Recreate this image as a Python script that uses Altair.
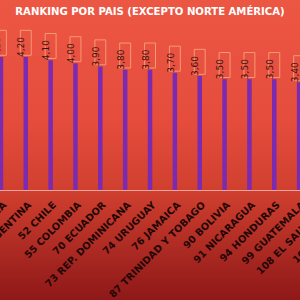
import altair as alt
import pandas as pd

TITLE = "RANKING POR PAIS (EXCEPTO NORTE AMÉRICA)"

# Category labels (rank + country); first and last two lie partly outside the crop
countries = [
    "45 PANAMÁ",
    "51 ARGENTINA",
    "52 CHILE",
    "55 COLOMBIA",
    "70 ECUADOR",
    "73 REP. DOMINICANA",
    "74 URUGUAY",
    "76 JAMAICA",
    "87 TRINIDAD Y TOBAGO",
    "90 BOLIVIA",
    "91 NICARAGUA",
    "94 HONDURAS",
    "99 GUATEMALA",
    "108 EL SALVADOR",
    "109 PARAGUAY",
]
scores = [4.20, 4.20, 4.10, 4.00, 3.90, 3.80, 3.80, 3.70, 3.60, 3.50, 3.50, 3.50, 3.40, 3.40, 3.40]

df = pd.DataFrame({
    "pais": countries,
    "valor": scores,
    "etiqueta": [f"{v:.2f}".replace(".", ",") for v in scores],
})

x_enc = alt.X(
    "pais:N",
    sort=countries,
    scale=alt.Scale(range=[-11.5, 361.25], paddingInner=0, paddingOuter=0),
    axis=alt.Axis(
        title=None,
        zindex=1,
        labelAngle=315,
        labelAlign="right",
        labelBaseline="middle",
        labelOffset=4,
        labelPadding=13,
        ticks=False,
        tickSize=0,
        domain=True,
        domainColor="#F4A49A",
        domainWidth=1.2,
        labelFont="DejaVu Sans",
        labelFontWeight="bold",
        labelFontSize=9.8,
        labelColor="#220606",
        labelOverlap=False,
        labelBound=False,
        labelFlush=False,
        labelLimit=300,
    ),
)
y_enc = alt.Y("valor:Q", scale=alt.Scale(domain=[0, 5.74]), axis=None)

gradient = alt.LinearGradient(
    gradient="linear",
    stops=[
        alt.GradientStop(color="#EC5743", offset=0),
        alt.GradientStop(color="#E54C3C", offset=0.4),
        alt.GradientStop(color="#D1402F", offset=0.63),
        alt.GradientStop(color="#8E1818", offset=1),
    ],
    x1=0, x2=0, y1=0, y2=1,
)

bg = alt.Chart(pd.DataFrame({"a": [0]})).mark_rect(fill=gradient).encode(
    x=alt.value(0), x2=alt.value(300), y=alt.value(0), y2=alt.value(300)
)

bars = alt.Chart(df).mark_bar(size=4.5, color="#7A2BB0").encode(x=x_enc, y=y_enc)

boxes = alt.Chart(df).mark_point(
    shape="M -0.42 -2.05 H 0.42 V -0.13 H -0.42 Z",
    size=676,
    filled=False,
    stroke="#F59A72",
    strokeWidth=1,
    opacity=1,
).encode(x=alt.X("pais:N", sort=countries), y="valor:Q")

labels = alt.Chart(df).mark_text(
    angle=270,
    align="left",
    baseline="middle",
    dy=-4.3,
    font="DejaVu Sans",
    fontSize=9,
    color="#3A1212",
).encode(x=alt.X("pais:N", sort=countries), y="valor:Q", text="etiqueta:N")

title = alt.Chart(pd.DataFrame({"t": [TITLE]})).mark_text(
    font="DejaVu Sans",
    fontWeight="bold",
    fontSize=10.1,
    color="#FFFFFF",
    align="center",
    baseline="alphabetic",
).encode(text="t:N", x=alt.value(150), y=alt.value(15))

chart = alt.layer(bg, bars, boxes, labels, title).properties(
    width=300,
    height=190,
    autosize=alt.AutoSizeParams(type="none"),
    padding={"left": 0, "right": 0, "top": 0, "bottom": 110},
).configure_view(stroke=None).configure(background="#8E1818")

chart.save("out.html", embed_options={"renderer": "svg", "actions": False})
